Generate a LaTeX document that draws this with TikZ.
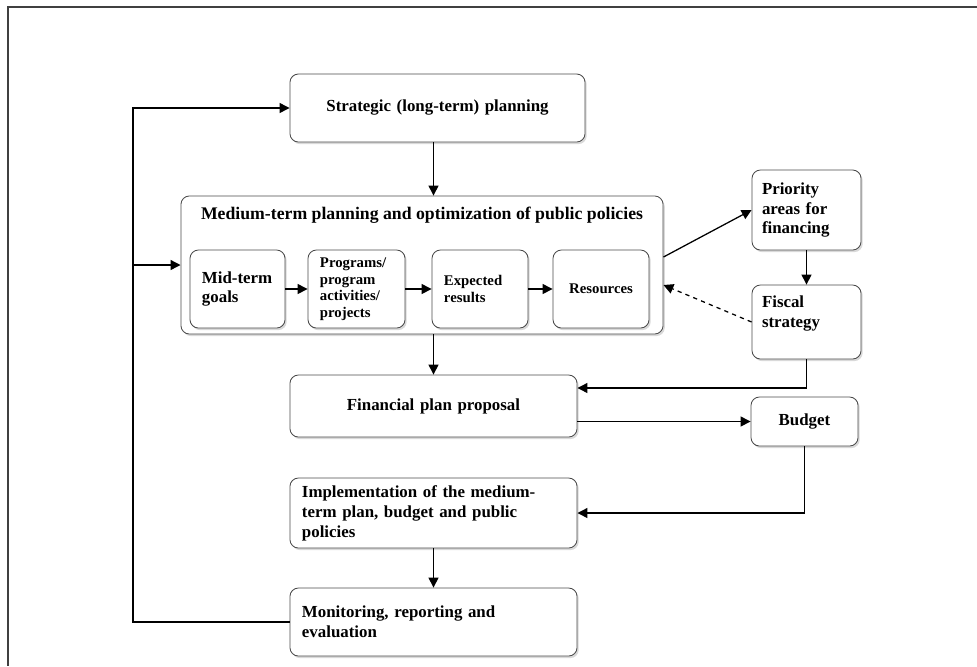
\documentclass[tikz,border=0pt]{standalone}
\usepackage{fontspec}
\setmainfont{Liberation Serif}
\usetikzlibrary{arrows.meta,shadows}

\begin{document}
\begin{tikzpicture}[x=0.025cm,y=-0.025cm,
  box/.style={draw=black!70, rounded corners=6pt, fill=white, line width=0.6pt,
    drop shadow={shadow xshift=1.2pt,shadow yshift=-1.5pt,opacity=0.3},
    font=\bfseries\fontsize{12}{14.2}\selectfont, inner xsep=0.3cm},
  small/.style={font=\bfseries\fontsize{10.5}{11.8}\selectfont},
  arr/.style={-{Triangle[length=7pt,width=7pt]}, line width=0.9pt},
]
\useasboundingbox (0,0) rectangle (977,666);
% Frame
\draw[line width=1.5pt, black!75] (977,7) -- (8,7) -- (8,666);
% Long-term planning
\node[box, text width=6.775cm, minimum height=1.7cm, align=center] (strat) at (437.5,108) {Strategic (long-term) planning};
% Medium-term block with its four steps
\node[box, minimum width=12.05cm, minimum height=3.45cm] (medium) at (422,265) {};
\node[font=\bfseries\fontsize{12.6}{14.2}\selectfont] (mtitle) at (422,215) {Medium-term planning and optimization of public policies};
\node[box, text width=1.775cm, minimum height=1.95cm, align=left] (goals) at (237.5,289) {Mid-term\\goals};
\node[box, small, text width=1.825cm, minimum height=1.95cm, align=left] (prog) at (356.5,289) {Programs/\\program\\activities/\\projects};
\node[box, small, text width=1.8cm, minimum height=1.95cm, align=left] (expect) at (480,289) {Expected\\results};
\node[box, small, text width=1.8cm, minimum height=1.95cm, align=center] (res) at (601,289) {Resources};
\foreach \a/\b in {goals/prog,prog/expect,expect/res}
  \draw[arr] (\a) -- (\b);
% Right column
\node[box, text width=2.225cm, minimum height=2cm, inner xsep=0.25cm, align=left] (prio) at (806.5,210) {Priority\\areas for\\financing};
\node[box, text width=2.225cm, minimum height=1.85cm, inner xsep=0.25cm, align=left] (fiscal) at (806.5,322) {Fiscal\\strategy\\\mbox{}};
\node[box, text width=2.075cm, minimum height=1.225cm, align=center] (budget) at (804.5,421.5) {Budget};
% Lower chain
\node[box, text width=6.575cm, minimum height=1.55cm, align=center] (fin) at (433.5,406) {Financial plan proposal};
\node[box, text width=6.575cm, minimum height=1.75cm, align=left] (impl) at (433.5,513) {Implementation of the medium-\\term plan, budget and public\\policies};
\node[box, text width=6.575cm, minimum height=1.7cm, align=left] (monitor) at (433.5,622) {Monitoring, reporting and\\evaluation};
% Connectors
\draw[arr] (fin.north |- strat.south) -- (fin.north |- medium.north);
\draw[arr] (fin.north |- medium.south) -- (fin.north);
\draw[arr] ([yshift=0.2cm]medium.east) -- (prio.west);
\draw[arr] (prio.south) -- (fiscal.north);
\draw[arr, dashed] (fiscal.west) -- ([yshift=-0.5cm]medium.east);
\draw[arr] (fiscal.south) |- ([yshift=0.45cm]fin.east);
\draw[arr] (fin.east |- budget.west) -- (budget.west);
\draw[arr] (budget.south) |- (impl.east);
\draw[arr] (impl.south) -- (monitor.north);
% Feedback loop
\coordinate (loop) at (133,0);
\draw[arr] (monitor.west) -- (loop |- monitor.west) |- (strat.west);
\draw[arr] (loop |- medium.west) -- (medium.west);
\end{tikzpicture}
\end{document}
